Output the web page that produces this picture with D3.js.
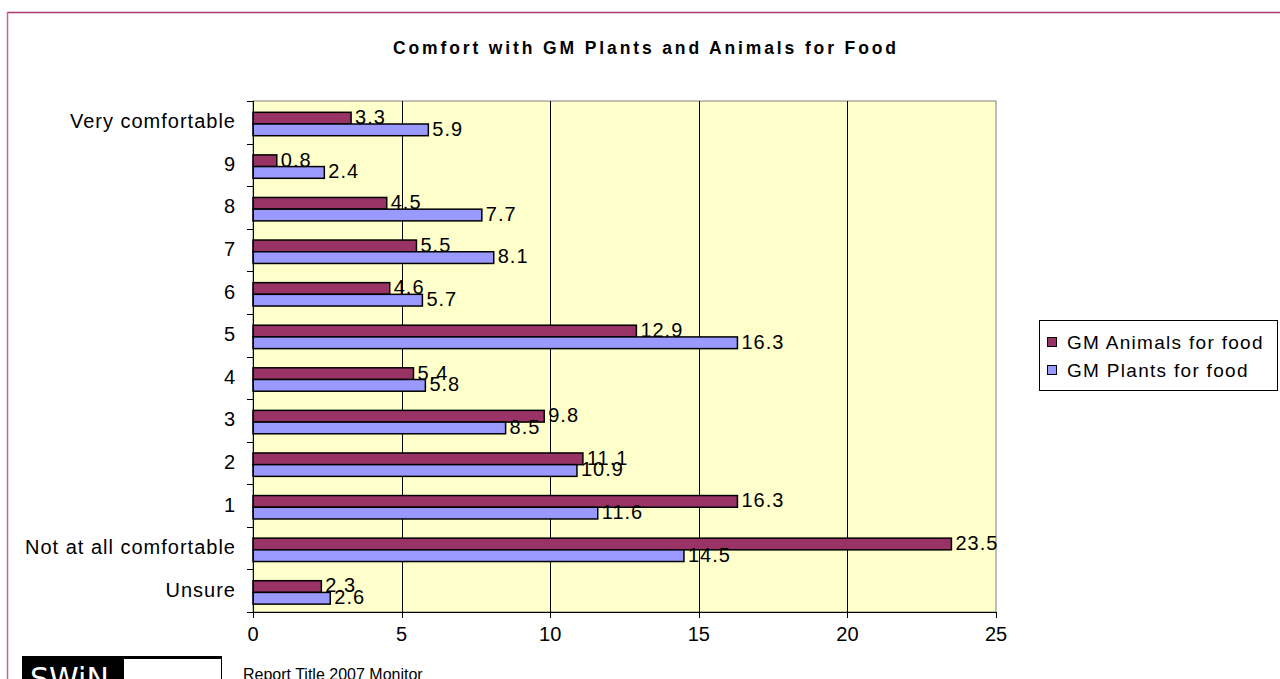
<!DOCTYPE html>
<html><head><meta charset="utf-8">
<script src="https://cdn.jsdelivr.net/npm/d3@7"></script>
<style>html,body{margin:0;padding:0;background:#fff;overflow:hidden}svg{display:block;font-family:"Liberation Sans",Arial,sans-serif}</style>
</head><body><svg id="c" width="1280" height="679"></svg>
<script>
const categories = ["Very comfortable","9","8","7","6","5","4","3","2","1","Not at all comfortable","Unsure"];
const animals = [3.3,0.8,4.5,5.5,4.6,12.9,5.4,9.8,11.1,16.3,23.5,2.3];
const plants  = [5.9,2.4,7.7,8.1,5.7,16.3,5.8,8.5,10.9,11.6,14.5,2.6];
const seriesNames = ["GM Animals for food","GM Plants for food"];
const xTicks = [0,5,10,15,20,25];
const title = "Comfort with GM Plants and Animals for Food";

const svg = d3.select("#c");
const L=253,R=996,T=101,B=612;
const x = d3.scaleLinear().domain([0,25]).range([L,R]);
const y = d3.scaleBand().domain(categories).range([T,B]).paddingInner(0).paddingOuter(0);
const bw = y.bandwidth();
const barH = 11.7, off = 11.3;
const FS = 20, LS = 1.0;

// outer border
svg.append("line").attr("x1",7).attr("x2",1280).attr("y1",12.5).attr("y2",12.5).attr("stroke","#b03a6e").attr("stroke-width",1.5);
svg.append("line").attr("x1",7.5).attr("x2",7.5).attr("y1",12).attr("y2",679).attr("stroke","#c2679a").attr("stroke-width",1.5);

// title
svg.append("text").attr("x",644.5).attr("y",53.5).attr("text-anchor","middle")
  .attr("font-size",17.5).attr("font-weight","bold").attr("textLength",503).attr("lengthAdjust","spacing").text(title);

// plot bg
svg.append("rect").attr("x",L).attr("y",T).attr("width",R-L).attr("height",B-T).attr("fill","#ffffcc").attr("stroke","#808080").attr("stroke-width",1);
// grid
svg.append("g").selectAll("line").data(xTicks.slice(1,-1)).join("line")
  .attr("x1",d=>Math.round(x(d))+0.5).attr("x2",d=>Math.round(x(d))+0.5).attr("y1",T).attr("y2",B)
  .attr("stroke","#000").attr("stroke-width",1);

// bars
const g = svg.append("g");
g.selectAll("rect.a").data(categories).join("rect").attr("class","a")
  .attr("x",L).attr("y",(d)=>y(d)+off).attr("width",(d,i)=>x(animals[i])-L).attr("height",barH)
  .attr("fill","#993366").attr("stroke","#000").attr("stroke-width",1.5);
g.selectAll("rect.p").data(categories).join("rect").attr("class","p")
  .attr("x",L).attr("y",(d)=>y(d)+off+barH).attr("width",(d,i)=>x(plants[i])-L).attr("height",barH)
  .attr("fill","#9999ff").attr("stroke","#000").attr("stroke-width",1.5);
// value labels
g.selectAll("text.a").data(categories).join("text").attr("class","a")
  .attr("x",(d,i)=>x(animals[i])+4).attr("y",d=>y(d)+off+barH)
  .attr("font-size",FS).attr("letter-spacing",LS).text((d,i)=>animals[i].toFixed(1));
g.selectAll("text.p").data(categories).join("text").attr("class","p")
  .attr("x",(d,i)=>x(plants[i])+4).attr("y",d=>y(d)+off+barH*2)
  .attr("font-size",FS).attr("letter-spacing",LS).text((d,i)=>plants[i].toFixed(1));

// left axis
svg.append("line").attr("x1",L+0.5).attr("x2",L+0.5).attr("y1",T).attr("y2",B+6).attr("stroke","#000");
const bounds = categories.map(c=>y(c)).concat([B]);
svg.append("g").selectAll("line").data(bounds).join("line")
  .attr("x1",L-6).attr("x2",L).attr("y1",d=>Math.round(d)+0.5).attr("y2",d=>Math.round(d)+0.5).attr("stroke","#000");
svg.append("g").selectAll("text").data(categories).join("text")
  .attr("x",236).attr("y",d=>y(d)+bw/2-1).attr("dy","0.35em").attr("text-anchor","end")
  .attr("font-size",FS).attr("letter-spacing",LS).text(d=>d);

// bottom axis
svg.append("line").attr("x1",L).attr("x2",R).attr("y1",B+0.5).attr("y2",B+0.5).attr("stroke","#000");
svg.append("g").selectAll("line").data(xTicks).join("line")
  .attr("x1",d=>Math.round(x(d))+0.5).attr("x2",d=>Math.round(x(d))+0.5).attr("y1",B).attr("y2",B+6).attr("stroke","#000");
svg.append("g").selectAll("text").data(xTicks).join("text")
  .attr("x",d=>x(d)).attr("y",641).attr("text-anchor","middle").attr("font-size",FS).text(d=>d);

// legend
const lg = svg.append("g");
lg.append("rect").attr("x",1039.5).attr("y",320.5).attr("width",238).attr("height",70).attr("fill","#fff").attr("stroke","#000");
const lc = ["#993366","#9999ff"];
seriesNames.forEach((n,i)=>{
  lg.append("rect").attr("x",1047.5).attr("y",337.5+i*28).attr("width",9).attr("height",9).attr("fill",lc[i]).attr("stroke","#000");
  lg.append("text").attr("x",1067).attr("y",342+i*28).attr("dy","0.35em").attr("font-size",19).attr("letter-spacing",1.3).text(n);
});

// logo / footer
svg.append("rect").attr("x",22).attr("y",656).attr("width",200).attr("height",30).attr("fill","#000");
svg.append("rect").attr("x",124).attr("y",659).attr("width",97).attr("height",30).attr("fill","#fff");
svg.append("text").attr("x",30).attr("y",689).attr("fill","#fff").attr("font-size",30).attr("font-family","DejaVu Sans").text("SWiN");
svg.append("text").attr("x",243).attr("y",680).attr("font-size",16).text("Report Title 2007 Monitor");
</script></body></html>
